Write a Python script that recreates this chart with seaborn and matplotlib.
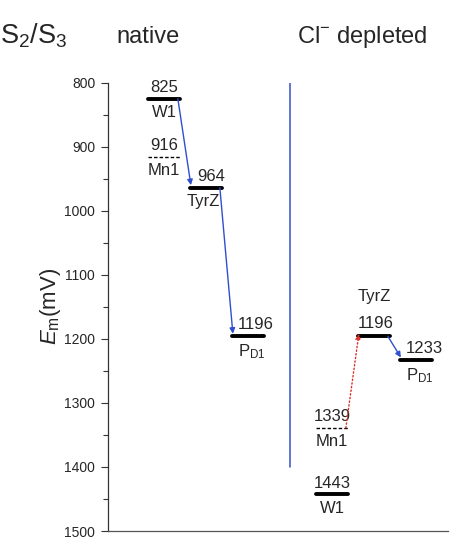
import matplotlib
matplotlib.use("Agg")
import matplotlib.pyplot as plt
import seaborn as sns
import pandas as pd
import numpy as np

sns.set_theme(style="white")
plt.rcParams['font.family'] = ['Liberation Sans', 'DejaVu Sans']
plt.rcParams['mathtext.fontset'] = 'custom'
plt.rcParams['mathtext.rm'] = 'Liberation Sans'
plt.rcParams['mathtext.it'] = 'Liberation Sans:italic'
plt.rcParams['mathtext.bf'] = 'Liberation Sans:bold'

# ---- data ----
states = ["native", "native", "native", "native",
          "depleted", "depleted", "depleted", "depleted"]
species = ["W1", "Mn1", "TyrZ", "PD1", "TyrZ", "PD1", "Mn1", "W1"]
slots = [0, 0, 1, 2, 5, 6, 4, 4]
potentials = [825, 916, 964, 1196, 1196, 1233, 1339, 1443]
dashed = [False, True, False, False, False, False, True, False]
names = ["W1", "Mn1", "TyrZ", r"P$_{\mathrm{D1}}$", "TyrZ", r"P$_{\mathrm{D1}}$", "Mn1", "W1"]
divider_slot = 3
divider_range = [800, 1400]
yticks = [800, 900, 1000, 1100, 1200, 1300, 1400, 1500]
# arrows: (from index, to index, colour, style)
arrows = [(0, 2, "#2f4fd0", "-"), (2, 3, "#2f4fd0", "-"),
          (6, 4, "#e0302a", ":"), (4, 5, "#2f4fd0", "-")]

df = pd.DataFrame({"state": states, "species": species, "slot": slots,
                   "E": potentials, "dashed": dashed, "label": names})

W = 455 / 100
H = 550 / 100
fig = plt.figure(figsize=(W, H), dpi=100)
ax = fig.add_axes([107.7 / 455, 1 - 531 / 550, (448 - 107.7) / 455, (531 - 82.7) / 550])

half = 0.38
for _, r in df.iterrows():
    xs = [r["slot"] - half, r["slot"] + half]
    ys = [r["E"], r["E"]]
    if r["dashed"]:
        sns.lineplot(x=xs, y=ys, ax=ax, color="black", lw=1.0, linestyle=(0, (2.5, 1.5)))
    else:
        sns.lineplot(x=xs, y=ys, ax=ax, color="black", lw=2.8)

# incoming-arrow targets get their value label nudged right
targets = {b for _, b, _, _ in arrows}

# labels
for i, r in df.iterrows():
    s, E = r["slot"], r["E"]
    if r["state"] == "depleted" and r["species"] == "TyrZ":
        ax.text(s + 0.05, E - 9, str(E), ha="center", va="bottom", fontsize=12)
        ax.text(s, E - 50, r["label"], ha="center", va="bottom", fontsize=12)
        continue
    dx = 0.19 if i in targets else 0.0
    if r["species"] == "TyrZ":
        dx = 0.12
    ax.text(s + dx, E - 6, str(E), ha="center", va="bottom", fontsize=12)
    ndx = -0.07 if r["species"] == "TyrZ" else (0.1 if r["species"] == "PD1" else 0.0)
    ax.text(s + ndx, E + 10, r["label"], ha="center", va="top", fontsize=12)

# arrows
for a, b, col, ls in arrows:
    ra, rb = df.iloc[a], df.iloc[b]
    ax.annotate("", xy=(rb["slot"] - half + 0.02, rb["E"] - 4),
                xytext=(ra["slot"] + half - 0.05, ra["E"]),
                arrowprops=dict(arrowstyle="-|>", color=col, lw=1.0, linestyle=ls,
                                mutation_scale=8, shrinkA=0, shrinkB=0))

# divider
ax.plot([divider_slot, divider_slot], divider_range, color="#3550c8", lw=1.1)

ax.set_xlim((107.7 - 164) / 42, (448 - 164) / 42)
ax.set_ylim(1500, 800)
ax.set_yticks(yticks)
ax.set_yticks(np.arange(850, 1500, 100), minor=True)
ax.set_xticks([])
ax.tick_params(axis="y", which="major", direction="out", length=5, width=0.8,
               labelsize=10, pad=4, left=True, color="#333333")
ax.tick_params(axis="y", which="minor", direction="out", length=3.5, width=0.8,
               left=True, color="#333333")
for s in ["top", "right"]:
    ax.spines[s].set_visible(False)
ax.spines["left"].set_color("#333333")
ax.spines["left"].set_linewidth(0.9)
ax.spines["bottom"].set_color("#555555")
ax.spines["bottom"].set_linewidth(0.9)
ax.set_ylabel(r"$\mathit{E}_{\mathrm{m}}\mathrm{(mV)}$", fontsize=16, labelpad=2)
ax.yaxis.set_label_coords(-0.13, 0.5)

fig.text(0.0, 1 - 43 / 550, r"S$_2$/S$_3$", fontsize=19.5, ha="left", va="baseline")
fig.text(116 / 455, 1 - 43 / 550, "native", fontsize=17, ha="left", va="baseline")
fig.text(297 / 455, 1 - 43 / 550, r"Cl$^{-}$ depleted", fontsize=17, ha="left", va="baseline")

fig.savefig("out.png", dpi=100)
